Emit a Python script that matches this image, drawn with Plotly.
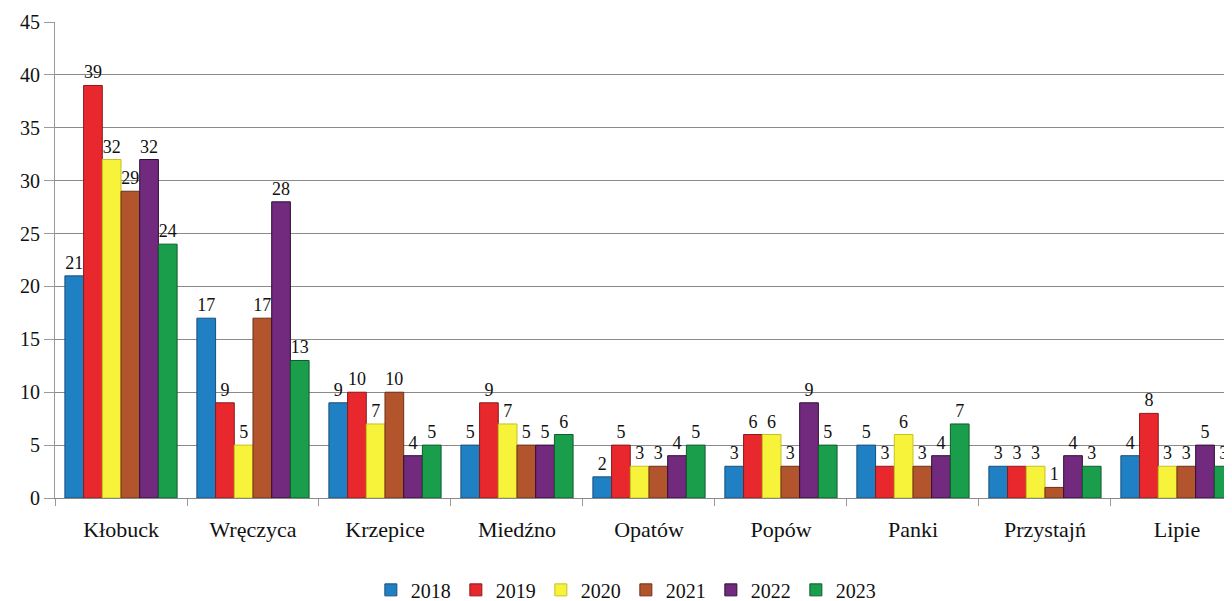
import plotly.graph_objects as go

categories = ["Kłobuck", "Wręczyca", "Krzepice", "Miedźno", "Opatów", "Popów", "Panki", "Przystajń", "Lipie"]
years = ["2018", "2019", "2020", "2021", "2022", "2023"]
v2018 = [21, 17, 9, 5, 2, 3, 5, 3, 4]
v2019 = [39, 9, 10, 9, 5, 6, 3, 3, 8]
v2020 = [32, 5, 7, 7, 3, 6, 6, 3, 3]
v2021 = [29, 17, 10, 5, 3, 3, 3, 1, 3]
v2022 = [32, 28, 4, 5, 4, 9, 4, 4, 5]
v2023 = [24, 13, 5, 6, 5, 5, 7, 3, 3]
series = [v2018, v2019, v2020, v2021, v2022, v2023]
colors = ["#1f80c4", "#e8282d", "#f7f23a", "#b3552c", "#722a7e", "#1a9e4c"]
edges = ["#1a4f78", "#8a1a1c", "#c8c020", "#6e3018", "#2e0f35", "#0f5c2b"]

font = "Liberation Serif, Times New Roman, serif"
fig = go.Figure()
for y, vals, c, e in zip(years, series, colors, edges):
    fig.add_trace(go.Bar(
        name=y, x=categories, y=vals,
        marker=dict(color=c, line=dict(color=e, width=1)),
        text=vals, textposition="outside",
        textfont=dict(family=font, size=18, color="#111"),
        cliponaxis=False,
    ))

fig.update_layout(
    barmode="group", bargap=0.15, bargroupgap=0,
    width=1224, height=593,
    margin=dict(l=47, r=0, t=14, b=103, autoexpand=False),
    paper_bgcolor="white", plot_bgcolor="white",
    font=dict(family=font, size=20, color="#111"),
    showlegend=True,
    legend=dict(orientation="h", x=0.485, xanchor="center", y=-0.193, yanchor="middle",
                font=dict(family=font, size=20), itemwidth=30, traceorder="normal"),
    xaxis=dict(range=[-0.5, 8.417], showline=True, linecolor="#888", linewidth=1,
               ticks="outside", tickson="boundaries", ticklen=7, tickcolor="#999",
               tickfont=dict(family=font, size=22), ticklabelstandoff=12, showgrid=False,
               automargin=False),
    yaxis=dict(range=[0, 45], dtick=5, showgrid=True, gridcolor="#8a8a8a", gridwidth=1,
               showline=True, linecolor="#999", linewidth=1, ticks="outside", ticklen=10,
               tickcolor="#999", tickfont=dict(family=font, size=20), zeroline=False,
               automargin=False),
)
fig.write_html("out.html")
